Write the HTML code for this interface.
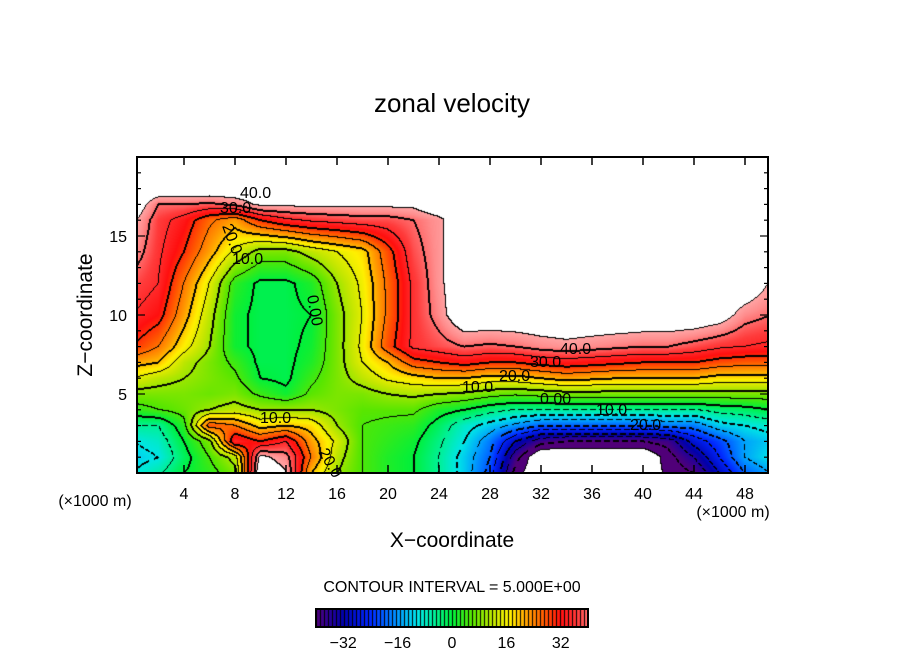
<!DOCTYPE html>
<html><head><meta charset="utf-8">
<style>
body{margin:0;background:#fff;}
#wrap{position:relative;width:904px;height:654px;overflow:hidden;background:#fff;font-family:"Liberation Sans",sans-serif;}
canvas{position:absolute;}
svg{position:absolute;left:0;top:0;}
</style></head>
<body>
<div id="wrap">
<canvas id="field" width="631" height="316" style="left:137px;top:157px"></canvas>
<canvas id="cbar" width="272" height="18" style="left:316px;top:609px"></canvas>
<svg id="ov" width="904" height="654">
<text x="452" y="112" font-size="26" text-anchor="middle" font-family="Liberation Sans, sans-serif">zonal velocity</text>
<text x="452" y="547" font-size="21" text-anchor="middle" font-family="Liberation Sans, sans-serif">X−coordinate</text>
<text transform="translate(92,315) rotate(-90)" font-size="21" text-anchor="middle" font-family="Liberation Sans, sans-serif">Z−coordinate</text>
<text x="95" y="506" font-size="16" text-anchor="middle" font-family="Liberation Sans, sans-serif">(×1000 m)</text>
<text x="733" y="517" font-size="16" text-anchor="middle" font-family="Liberation Sans, sans-serif">(×1000 m)</text>
<text x="452" y="592" font-size="16" text-anchor="middle" font-family="Liberation Sans, sans-serif">CONTOUR INTERVAL = 5.000E+00</text>
<g id="labels" font-size="16" font-family="Liberation Sans, sans-serif" fill="#000"></g>
<g id="axes"></g>
</svg>
</div>
<script>
// ---- data ----
const xNodes = [0,2,4,6,8,10,12,14,16,18,20,22,24,26,28,30,32,34,36,38,40,42,44,46,48,50];
const zNodes = [20,18,17,16,14,12,10,8,7,6,5,4,3,2,1,0];
const u_z20 = [50,50,50,50,50,50,50,50,50,50,50,50,50,50,50,50,50,50,50,50,50,50,50,50,50,50];
const u_z18 = [50,50,50,50,50,50,50,50,50,50,50,50,50,50,50,50,50,50,50,50,50,50,50,50,50,50];
const u_z17 = [50,40,40,39,41,46,46,46,46,46,46,46,50,50,50,50,50,50,50,50,50,50,50,50,50,50];
const u_z16 = [46,37,33,26,22,30,34,36,37,38,38,40,43,50,50,50,50,50,50,50,50,50,50,50,50,50];
const u_z14 = [43,36,30,22,14,8,8,12,15,18,28,38,43,50,50,50,50,50,50,50,50,50,50,50,50,50];
const u_z12 = [38,35,25,15,3,-1,-1,2,10,16,26,36,43,50,50,50,50,50,50,50,50,50,50,50,50,44];
const u_z10 = [35,32,22,12,1,-1,-1,0,8,15,26,36,42,50,50,50,50,50,50,50,50,50,50,48,42,40];
const u_z8  = [30,25,17,10,1,-1,-1,1,8,16,28,36,38,40,39,40,42,43,42,41,40,40,38,36,35,34];
const u_z7  = [22,20,12,8,4,-1,-1,2,8,15,20,28,30,32,30,30,32,33,32,31,30,30,30,28,27,27];
const u_z6  = [15,12,10,8,6,0,-1,4,8,12,16,18,20,20,18,18,20,22,21,20,20,20,20,18,18,18];
const u_z5  = [8,8,8,7,8,4,1,6,8,8,10,11,10,9,7,6,7,8,8,8,8,8,8,8,8,8];
const u_z4  = [3,5,7,10,12,10,10,10,8,6,6,6,2,0,-3,-5,-5,-5,-5,-5,-5,-5,-5,-3,-2,0];
const u_z3  = [-5,-5,3,28,25,18,20,18,10,5,4,3,-2,-8,-12,-16,-20,-20,-20,-20,-20,-18,-18,-12,-10,-8];
const u_z2  = [-10,-8,0,8,35,30,35,22,14,5,3,1,-4,-10,-18,-30,-38,-40,-40,-40,-40,-38,-28,-22,-15,-12];
const u_z1  = [-12,-10,-2,5,12,46,42,25,12,5,2,0,-5,-12,-20,-38,-50,-50,-50,-50,-50,-42,-35,-25,-15,-10];
const u_z0  = [-10,-6,0,3,8,50,45,20,10,5,2,0,-5,-12,-22,-42,-50,-50,-50,-50,-50,-43,-40,-30,-20,-15];
const field = [u_z20,u_z18,u_z17,u_z16,u_z14,u_z12,u_z10,u_z8,u_z7,u_z6,u_z5,u_z4,u_z3,u_z2,u_z1,u_z0];
const xTicks = [4,8,12,16,20,24,28,32,36,40,44,48];
const zTicks = [5,10,15];
const cbTicks = [-32,-16,0,16,32];

// ---- scales ----
const X0=133, SX=12.75, Y0=473, SZ=15.8;
const xPx = x => X0 + x*SX;
const zPx = z => Y0 - z*SZ;
const cbPx = v => 316 + (v+40)/80*272;

const stops=[[-40,80,0,120],[-36,40,0,150],[-32,0,0,170],[-24,0,40,255],[-16,0,150,255],[-10,0,230,230],[-5,0,240,150],[0,0,240,60],[6,90,230,0],[12,190,230,0],[17,255,240,0],[22,255,160,0],[27,255,90,0],[32,255,15,15],[37,255,60,60],[42,255,140,140],[45,255,170,170]];
function cmap(v){
  if(v<=stops[0][0]) return stops[0].slice(1);
  for(let i=1;i<stops.length;i++){ if(v<=stops[i][0]){const a=stops[i-1],b=stops[i],t=(v-a[0])/(b[0]-a[0]);return [a[1]+t*(b[1]-a[1]),a[2]+t*(b[2]-a[2]),a[3]+t*(b[3]-a[3])];}}
  return stops[stops.length-1].slice(1);
}
function interp(x,z){
  let i=0; while(i<xNodes.length-2 && x>xNodes[i+1]) i++;
  let j=0; while(j<zNodes.length-2 && z<zNodes[j+1]) j++;
  const tx=Math.min(1,Math.max(0,(x-xNodes[i])/(xNodes[i+1]-xNodes[i])));
  const tz=Math.min(1,Math.max(0,(zNodes[j]-z)/(zNodes[j]-zNodes[j+1])));
  const a=field[j][i],b=field[j][i+1],c=field[j+1][i],d=field[j+1][i+1];
  return (a*(1-tx)+b*tx)*(1-tz)+(c*(1-tx)+d*tx)*tz;
}
// ---- field ----
(function(){
  const cv=document.getElementById('field'),ctx=cv.getContext('2d');
  const W=cv.width,H=cv.height,img=ctx.createImageData(W,H),D=img.data;
  const V=new Float32Array(W*H), L=new Int16Array(W*H);
  for(let y=0;y<H;y++)for(let x=0;x<W;x++){
    const v=interp((137+x+0.5-X0)/SX,(Y0-(157+y+0.5))/SZ);
    V[y*W+x]=v; L[y*W+x]=Math.abs(v)>44.5?999:Math.floor(v/5);
  }
  const black=new Uint8Array(W*H);
  function mark(x,y,x2,y2){
    const l1=L[y*W+x],l2=L[y2*W+x2];
    if(l1===l2) return;
    let b;
    if(l1===999||l2===999){ b=null; }
    else b=Math.max(l1,l2)*5;
    if(b!==null && b<0 && ((x+y)%9)<3) return;
    black[y*W+x]=1;
    if(b!==null && b%10===0) black[y2*W+x2]=1;
  }
  for(let y=0;y<H;y++)for(let x=0;x<W;x++){
    if(x<W-1) mark(x,y,x+1,y);
    if(y<H-1) mark(x,y,x,y+1);
  }
  for(let k=0;k<W*H;k++){
    let c;
    if(black[k]) c=[0,0,0];
    else if(L[k]===999) c=[255,255,255];
    else c=cmap(V[k]);
    D[k*4]=c[0];D[k*4+1]=c[1];D[k*4+2]=c[2];D[k*4+3]=255;
  }
  ctx.putImageData(img,0,0);
})();
// ---- colorbar ----
(function(){
  const cv=document.getElementById('cbar'),ctx=cv.getContext('2d');
  for(let x=0;x<272;x++){
    const v=-40+(x+0.5)/272*80;
    const c=cmap(v);
    ctx.fillStyle=(x%4===0)?'#000':'rgb('+c.map(Math.round).join(',')+')';
    ctx.fillRect(x,0,1,18);
  }
})();
// ---- axes ----
const NS='http://www.w3.org/2000/svg';
const axes=document.getElementById('axes');
function el(tag,attrs,parent){const e=document.createElementNS(NS,tag);for(const k in attrs)e.setAttribute(k,attrs[k]);(parent||axes).appendChild(e);return e;}
const frame=el('rect',{x:137,y:157,width:631,height:316,fill:'none',stroke:'#000','stroke-width':2});


const cbf=el('rect',{x:316,y:609,width:272,height:18,fill:'none',stroke:'#000','stroke-width':2});


xTicks.forEach(t=>{
  const p=xPx(t);
  el('line',{x1:p,x2:p,y1:473,y2:465,stroke:'#000','stroke-width':1.5});
  el('line',{x1:p,x2:p,y1:157,y2:165,stroke:'#000','stroke-width':1.5});
  const tx=el('text',{x:p,y:499,'font-size':16,'text-anchor':'middle','font-family':'Liberation Sans, sans-serif'});
  tx.textContent=t;
  
  
});
for(let z=1;z<20;z++){
  const p=zPx(z), len=(z%5===0)?8:4;
  el('line',{x1:137,x2:137+len,y1:p,y2:p,stroke:'#000','stroke-width':1.2});
  el('line',{x1:768,x2:768-len,y1:p,y2:p,stroke:'#000','stroke-width':1.2});
}
zTicks.forEach(t=>{
  const tx=el('text',{x:127,y:zPx(t)+6,'font-size':16,'text-anchor':'end','font-family':'Liberation Sans, sans-serif'});
  tx.textContent=t;
  
  
});
cbTicks.forEach(t=>{
  const tx=el('text',{x:cbPx(t),y:648,'font-size':16,'text-anchor':'middle','font-family':'Liberation Sans, sans-serif'});
  tx.textContent=(t<0?'−':'')+Math.abs(t);
  
  
});
// contour labels
const labs=[["40.0",240,198,0],["30.0",220,213,0],["20.0",222,226,70],["10.0",232,264,0],["0.00",307,296,80],["10.0",260,423,0],["20.0",318,452,60],["40.0",560,354,0],["30.0",530,367,0],["20.0",499,381,0],["10.0",462,392,0],["0.00",540,404,0],["10.0",596,415,0],["20.0",630,430,0]];
const lg=document.getElementById('labels');
labs.forEach(l=>{
  const t=el('text',{x:l[1],y:l[2],'font-size':16,transform:'rotate('+l[3]+','+l[1]+','+l[2]+')'},lg);
  t.textContent=l[0];
  
  
});
</script>
</body></html>
